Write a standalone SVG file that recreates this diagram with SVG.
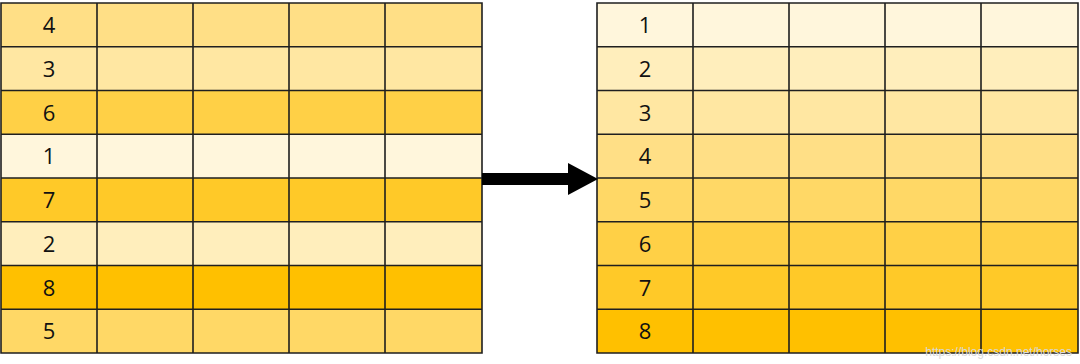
<svg xmlns="http://www.w3.org/2000/svg" width="1080" height="364" viewBox="0 0 1080 364">
<style>
.c{stroke:#1f1f1f;stroke-width:1.6}
.t{font-family:"Open Sans","Liberation Sans",sans-serif;font-size:22px;fill:#111;text-anchor:middle}
.l{fill:none;stroke:#1f1f1f;stroke-width:1.6}
.r1{fill:#FFF6DC}.r2{fill:#FFEEBC}.r3{fill:#FFE7A2}.r4{fill:#FFDF86}.r5{fill:#FFD866}.r6{fill:#FFD046}.r7{fill:#FFC928}.r8{fill:#FFC000}
</style>
<rect width="1080" height="364" fill="#fff"/>
<g id="left-table">
<rect class="r4" x="1" y="3" width="481" height="43.75"/>
<rect class="r3" x="1" y="46.75" width="481" height="43.75"/>
<rect class="r6" x="1" y="90.5" width="481" height="43.75"/>
<rect class="r1" x="1" y="134.25" width="481" height="43.75"/>
<rect class="r7" x="1" y="178" width="481" height="43.75"/>
<rect class="r2" x="1" y="221.75" width="481" height="43.75"/>
<rect class="r8" x="1" y="265.5" width="481" height="43.75"/>
<rect class="r5" x="1" y="309.25" width="481" height="43.75"/>
<path class="l" d="M1 3H482V353H1Z M1 46.75H482 M1 90.5H482 M1 134.25H482 M1 178H482 M1 221.75H482 M1 265.5H482 M1 309.25H482 M97 3V353 M193 3V353 M289 3V353 M385 3V353"/>
<text class="t" x="49" y="33">4</text>
<text class="t" x="49" y="76.75">3</text>
<text class="t" x="49" y="120.5">6</text>
<text class="t" x="49" y="164.25">1</text>
<text class="t" x="49" y="208">7</text>
<text class="t" x="49" y="251.75">2</text>
<text class="t" x="49" y="295.5">8</text>
<text class="t" x="49" y="339.25">5</text>
</g>
<g id="right-table">
<rect class="r1" x="597" y="3" width="481" height="43.75"/>
<rect class="r2" x="597" y="46.75" width="481" height="43.75"/>
<rect class="r3" x="597" y="90.5" width="481" height="43.75"/>
<rect class="r4" x="597" y="134.25" width="481" height="43.75"/>
<rect class="r5" x="597" y="178" width="481" height="43.75"/>
<rect class="r6" x="597" y="221.75" width="481" height="43.75"/>
<rect class="r7" x="597" y="265.5" width="481" height="43.75"/>
<rect class="r8" x="597" y="309.25" width="481" height="43.75"/>
<path class="l" d="M597 3H1078V353H597Z M597 46.75H1078 M597 90.5H1078 M597 134.25H1078 M597 178H1078 M597 221.75H1078 M597 265.5H1078 M597 309.25H1078 M693 3V353 M789 3V353 M885 3V353 M981 3V353"/>
<text class="t" x="645" y="33">1</text>
<text class="t" x="645" y="76.75">2</text>
<text class="t" x="645" y="120.5">3</text>
<text class="t" x="645" y="164.25">4</text>
<text class="t" x="645" y="208">5</text>
<text class="t" x="645" y="251.75">6</text>
<text class="t" x="645" y="295.5">7</text>
<text class="t" x="645" y="339.25">8</text>
</g>
<g id="connectors">
<path d="M482 173H568V163L598 179L568 195V185H482Z" fill="#000"/>
</g>
<text x="1072" y="356" font-family="'Liberation Sans',sans-serif" font-size="12" fill="#d8d8d8" text-anchor="end">https://blog.csdn.net/horses</text>
</svg>
